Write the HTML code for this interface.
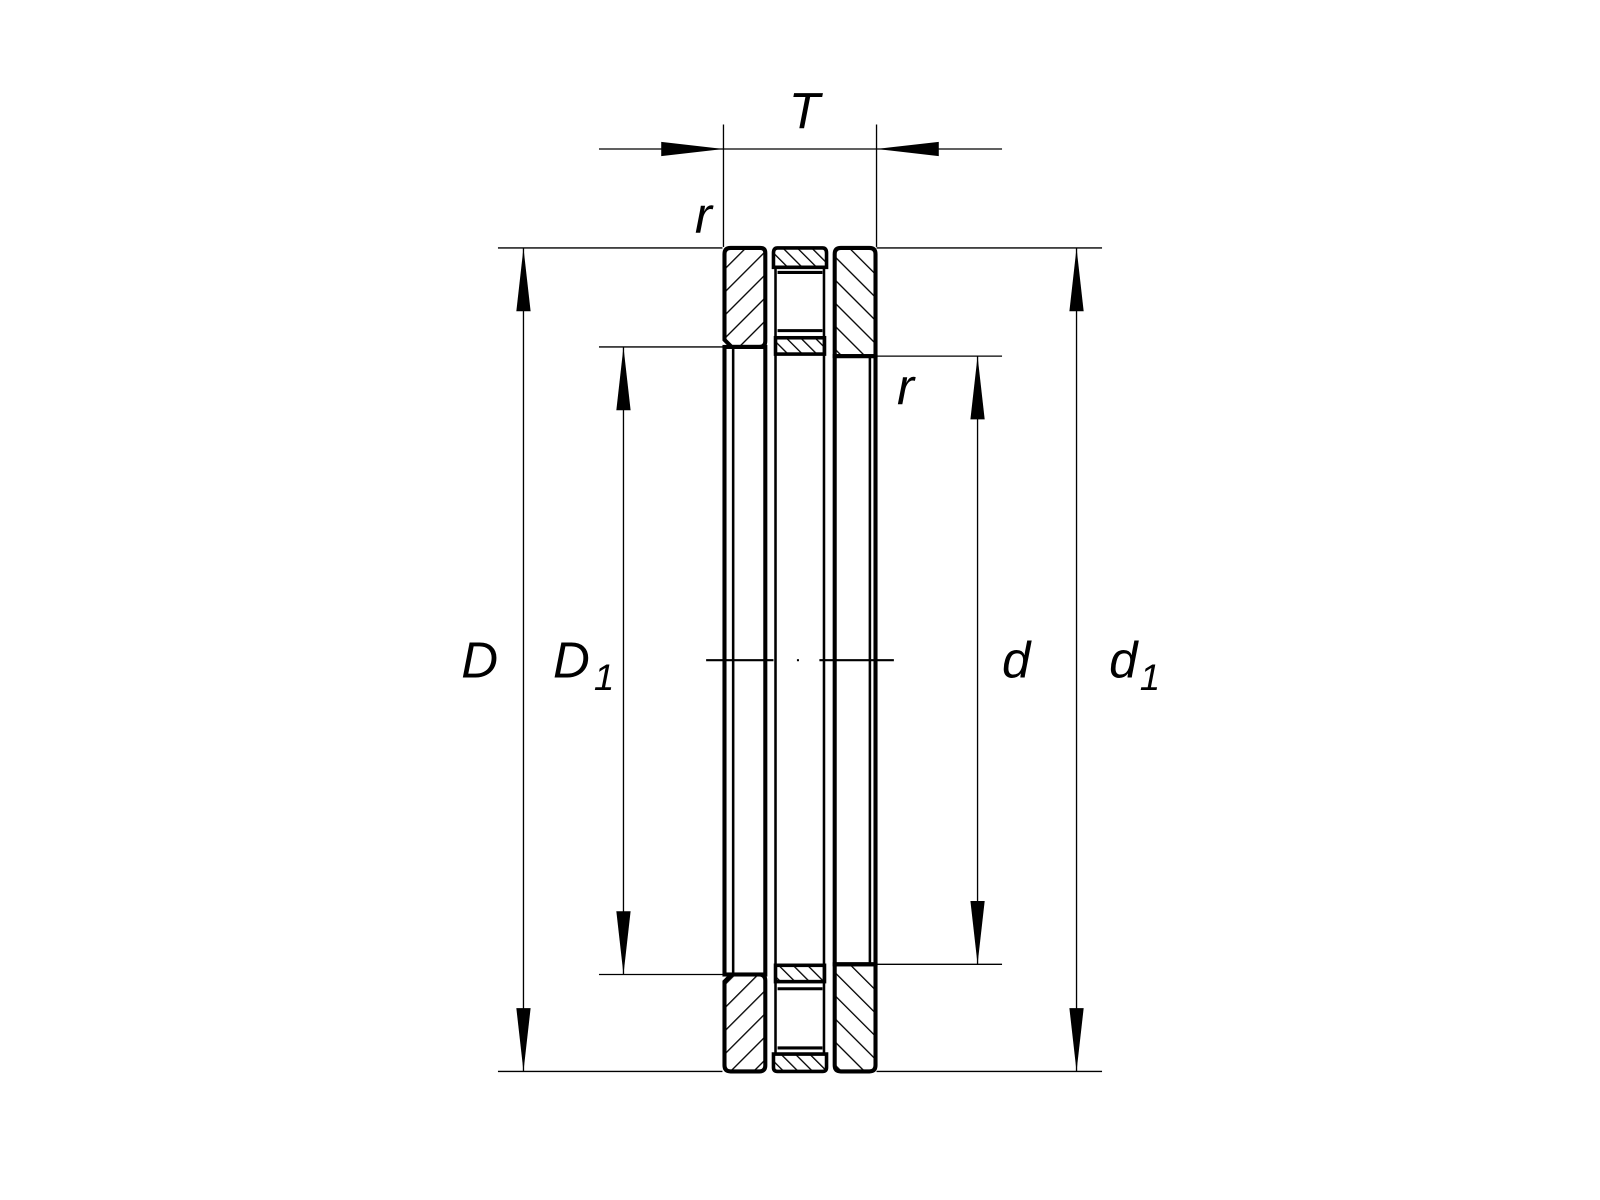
<!DOCTYPE html>
<html><head><meta charset="utf-8"><style>html,body{margin:0;padding:0;background:#fff}svg{display:block}</style></head>
<body>
<svg width="1600" height="1200" viewBox="0 0 1568 1176" xmlns="http://www.w3.org/2000/svg">
<defs>
<pattern id="hr" patternUnits="userSpaceOnUse" width="16" height="16" patternTransform="rotate(45)"><line x1="0" y1="0" x2="0" y2="16" stroke="#000" stroke-width="2.6"/></pattern>
<pattern id="hl" patternUnits="userSpaceOnUse" width="16" height="16" patternTransform="rotate(-45)"><line x1="0" y1="0" x2="0" y2="16" stroke="#000" stroke-width="2.6"/></pattern>
<pattern id="hc" patternUnits="userSpaceOnUse" width="10" height="10" patternTransform="rotate(-45)"><line x1="0" y1="0" x2="0" y2="10" stroke="#000" stroke-width="2.6"/></pattern>
</defs>
<g fill="none" stroke="#000" stroke-width="1.3">
<line x1="709" y1="122" x2="709" y2="242"/><line x1="859" y1="122" x2="859" y2="242"/>
<line x1="587" y1="146" x2="982" y2="146"/>
<line x1="488" y1="243" x2="708" y2="243"/><line x1="488" y1="1050" x2="708" y2="1050"/>
<line x1="513" y1="243" x2="513" y2="1050"/>
<line x1="587" y1="340" x2="710" y2="340"/><line x1="587" y1="955" x2="710" y2="955"/>
<line x1="611" y1="340" x2="611" y2="955"/>
<line x1="859" y1="349" x2="982" y2="349"/><line x1="859" y1="945" x2="982" y2="945"/>
<line x1="958" y1="349" x2="958" y2="945"/>
<line x1="859" y1="243" x2="1080" y2="243"/><line x1="859" y1="1050" x2="1080" y2="1050"/>
<line x1="1055" y1="243" x2="1055" y2="1050"/>
<line x1="692" y1="647" x2="758" y2="647" stroke-width="2"/><line x1="803" y1="647" x2="876" y2="647" stroke-width="2"/>
</g>
<rect x="781" y="646" width="2" height="2" fill="#000"/>
<g fill="#000">
<polygon points="709,146 648,139 648,153"/><polygon points="859,146 920,139 920,153"/>
<polygon points="513,243 506,305 520,305"/><polygon points="513,1050 506,988 520,988"/>
<polygon points="611,340 604,402 618,402"/><polygon points="611,955 604,893 618,893"/>
<polygon points="958,349 951,411 965,411"/><polygon points="958,945 951,883 965,883"/>
<polygon points="1055,243 1048,305 1062,305"/><polygon points="1055,1050 1048,988 1062,988"/>
</g>
<path d="M716,243 H745 Q750,243 750,248 V334 Q750,340 744,340 H717 L710,333 V249 Q710,243 716,243Z" fill="url(#hr)" stroke="#000" stroke-width="4"/>
<path d="M717,955 H744 Q750,955 750,961 V1044 Q750,1050 744,1050 H716 Q710,1050 710,1044 V962 Z" fill="url(#hr)" stroke="#000" stroke-width="4"/>
<path d="M824,243 H852 Q858,243 858,249 V349 H818 V249 Q818,243 824,243Z" fill="url(#hl)" stroke="#000" stroke-width="4"/>
<path d="M818,945 H858 V1044 Q858,1050 852,1050 H824 Q818,1050 818,1044 Z" fill="url(#hl)" stroke="#000" stroke-width="4"/>
<g fill="none" stroke="#000">
<rect x="710" y="340" width="40" height="615" stroke-width="4"/>
<line x1="718.5" y1="340" x2="718.5" y2="955" stroke-width="2.5"/>
<rect x="818" y="349" width="40" height="596" stroke-width="4"/>
<line x1="852.5" y1="349" x2="852.5" y2="945" stroke-width="2.5"/>
<line x1="760" y1="262" x2="760" y2="1033" stroke-width="2.5"/>
<line x1="807.5" y1="262" x2="807.5" y2="1033" stroke-width="2.5"/>
</g>
<g stroke="#000" stroke-width="3.5">
<path d="M762,243 H806 Q810,243 810,248 V262 H758 V248 Q758,243 762,243Z" fill="url(#hc)"/>
<rect x="760" y="331" width="48" height="16" fill="url(#hc)"/>
<rect x="760" y="946" width="48" height="16" fill="url(#hc)"/>
<path d="M758,1033 H810 V1046 Q810,1050 806,1050 H762 Q758,1050 758,1046Z" fill="url(#hc)"/>
</g>
<g stroke="#000" stroke-width="3">
<line x1="762" y1="267" x2="806" y2="267"/><line x1="762" y1="324" x2="806" y2="324"/>
<line x1="762" y1="969" x2="806" y2="969"/><line x1="762" y1="1027" x2="806" y2="1027"/>
</g>
<g font-family="Liberation Sans, sans-serif" font-style="italic" font-size="50" fill="#000">
<text x="773" y="126">T</text>
<text x="681" y="228">r</text>
<text x="879" y="396">r</text>
<text x="452" y="664">D</text>
<text x="542" y="664">D</text><text x="582" y="676" font-size="36">1</text>
<text x="982" y="664">d</text>
<text x="1087" y="664">d</text><text x="1117" y="676" font-size="36">1</text>
</g>
</svg>
</body></html>
